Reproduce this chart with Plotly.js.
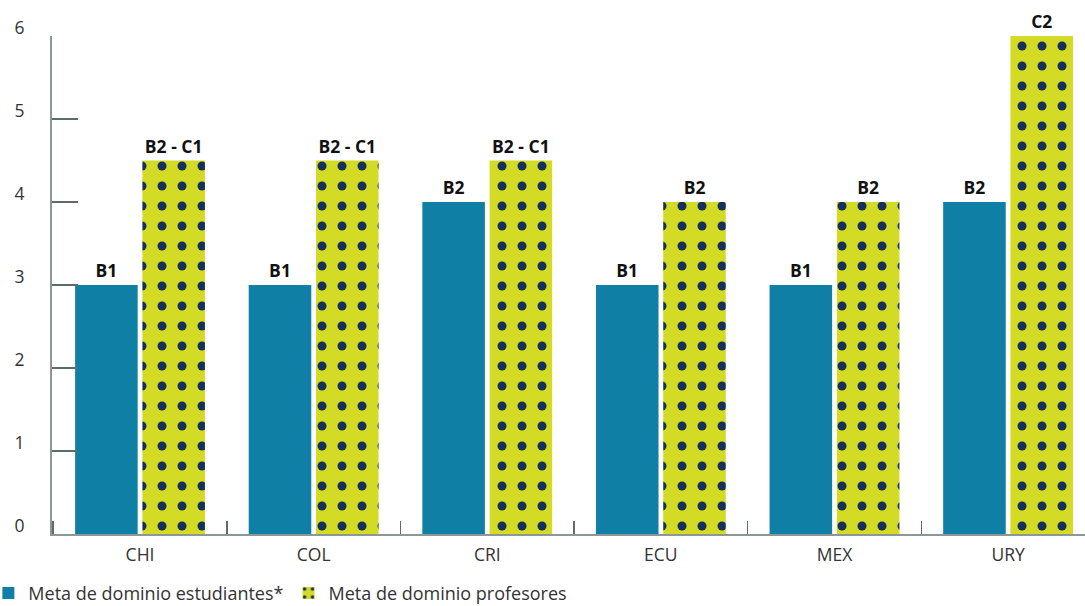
<!DOCTYPE html>
<html>
<head>
<meta charset="utf-8">
<script src="https://cdn.plot.ly/plotly-3.0.1.min.js"></script>
<style>html,body{margin:0;padding:0;background:#fff}#chart{width:1085px;height:606px}</style>
</head>
<body>
<div id="chart"></div>
<script>
const categories = ['CHI', 'COL', 'CRI', 'ECU', 'MEX', 'URY'];
const studentValues = [3, 3, 4, 3, 3, 4];
const studentLabels = ['B1', 'B1', 'B2', 'B1', 'B1', 'B2'];
const teacherValues = [4.5, 4.5, 4.5, 4, 4, 6];
const teacherLabels = ['B2 - C1', 'B2 - C1', 'B2 - C1', 'B2', 'B2', 'C2'];
const yTicks = [0, 1, 2, 3, 4, 5, 6];

const FONT = 'Open Sans, Noto Sans, sans-serif';

const traces = [
  {
    type: 'bar',
    name: 'Meta de dominio estudiantes*',
    x: categories,
    y: studentValues,
    text: studentLabels,
    texttemplate: '<b>%{text}</b>',
    textposition: 'outside',
    cliponaxis: false,
    constraintext: 'none',
    textfont: {family: FONT, size: 17.5, color: '#111'},
    marker: {color: '#0f7fa6'},
    hoverinfo: 'none'
  },
  {
    type: 'bar',
    name: 'Meta de dominio profesores',
    x: categories,
    y: teacherValues,
    text: teacherLabels,
    texttemplate: '<b>%{text}</b>',
    textposition: 'outside',
    cliponaxis: false,
    constraintext: 'none',
    textfont: {family: FONT, size: 17.5, color: '#111'},
    marker: {
      color: '#d4db24',
      pattern: {shape: '.', bgcolor: '#d4db24', fgcolor: '#15305a', fgopacity: 1, size: 20, solidity: 0.16, fillmode: 'overlay'}
    },
    hoverinfo: 'none'
  }
];

const layout = {
  width: 1085,
  height: 606,
  margin: {l: 52, r: 0, t: 36, b: 72, pad: 0, autoexpand: false},
  paper_bgcolor: '#fff',
  plot_bgcolor: '#fff',
  barmode: 'group',
  bargap: 0.225,
  bargroupgap: 0.07,
  font: {family: FONT, size: 18, color: '#333'},
  showlegend: true,
  legend: {
    orientation: 'h', x: -0.0616, xanchor: 'left', y: -0.082, yanchor: 'top',
    font: {family: FONT, size: 18, color: '#333'},
    tracegroupgap: 0, traceorder: 'normal'
  },
  xaxis: {
    type: 'category',
    automargin: false,
    range: [-0.507, 5.443],
    showline: true, linecolor: '#8a9898', linewidth: 2,
    ticks: 'inside', ticklen: 13, tickwidth: 1.5, tickcolor: '#5d6b6b',
    tickson: 'boundaries',
    showgrid: false, zeroline: false,
    ticklabelstandoff: 4,
    tickfont: {family: FONT, size: 17.5, color: '#333'}
  },
  yaxis: {
    automargin: false,
    range: [0, 6],
    tickvals: yTicks,
    showline: true, linecolor: '#8a9898', linewidth: 2,
    ticks: 'inside', ticklen: 26, tickwidth: 2, tickcolor: '#5d6b6b',
    showgrid: false, zeroline: false,
    ticklabelstandoff: 22,
    ticklabelshift: -8,
    tickfont: {family: FONT, size: 17.5, color: '#333'}
  }
};

Plotly.newPlot('chart', traces, layout, {displayModeBar: false, staticPlot: true});
</script>
</body>
</html>
